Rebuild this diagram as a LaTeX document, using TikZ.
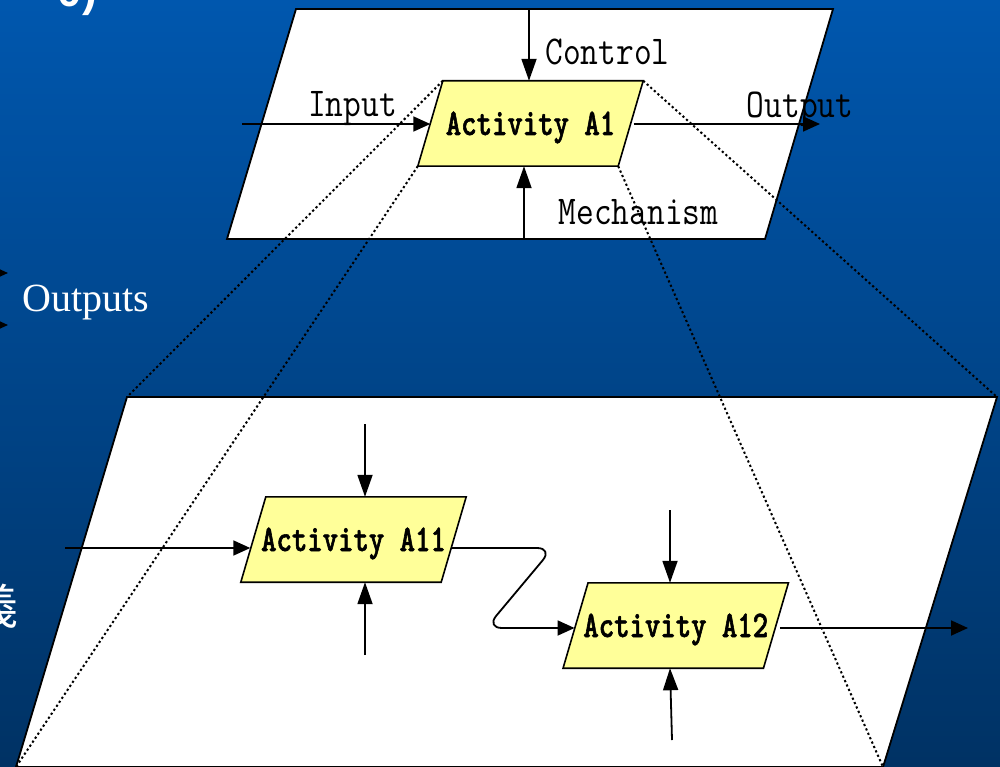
\documentclass[tikz,border=0pt]{standalone}
\usepackage{fontspec}
\usetikzlibrary{arrows.meta}
\newfontfamily\lblfont[FakeStretch=0.84]{Latin Modern Mono}
\newfontfamily\actfont[FakeStretch=0.78,FakeBold=1.5]{lmmonolt10-bold.otf}
\newfontfamily\outfont{Liberation Serif}
\newfontfamily\ttlfont{Liberation Sans}
\newfontfamily\cjkfont{Noto Sans CJK TC}
\definecolor{bgtop}{RGB}{0,87,174}
\definecolor{bgbot}{RGB}{0,50,100}
\definecolor{actyellow}{RGB}{255,255,153}
\pgfdeclarelayer{bg}
\pgfdeclarelayer{boxes}
\pgfsetlayers{bg,boxes,main}
\begin{document}
\begin{tikzpicture}[x=1pt,y=-1pt,
  frame/.style={draw=black,fill=white,line width=1.8pt,line join=miter},
  actbox/.style={rectangle,minimum width=200pt,minimum height=85pt,inner sep=0pt,
    text height=23pt,text depth=0pt,
    font=\actfont\fontsize{37.6}{37.6}\selectfont},
  actshape/.style={draw=black,fill=actyellow,line width=1.6pt,line join=miter},
  lbl/.style={font=\lblfont\fontsize{41}{41}\selectfont,inner sep=0pt,anchor=base},
  harr/.style={-{Triangle[length=17pt,width=15pt]},line width=1.8pt},
  varr/.style={-{Triangle[length=22pt,width=15pt]},line width=1.8pt},
  dots/.style={line width=2pt,dash pattern=on 2.2pt off 2.6pt}]
\useasboundingbox (0,0) rectangle (1000,767);
\begin{pgfonlayer}{bg}
\shade[top color=bgtop,bottom color=bgbot] (0,0) rectangle (1000,767);
\end{pgfonlayer}

% fragments of the slide at the left
\node[font=\ttlfont\bfseries\fontsize{44}{44}\selectfont,text=white,anchor=base east,inner sep=0pt] (ttl) at (97,7) {0)};
\node[font=\outfont\fontsize{40}{40}\selectfont,text=white,anchor=base west,inner sep=0pt] (outs) at (22,311) {Outputs};
\coordinate (oa1s) at (-30,273); \coordinate (oa1) at (8,273);
\coordinate (oa2s) at (-30,325); \coordinate (oa2) at (8,325);
\draw[harr] (oa1s) -- (oa1);
\draw[harr] (oa2s) -- (oa2);
\node[font=\cjkfont\fontsize{48}{48}\selectfont,text=white,inner sep=0pt] (cj) at (-5,606) {義};

% frames
\coordinate (t1) at (296,9);  \coordinate (t2) at (833,9);
\coordinate (t3) at (765,239); \coordinate (t4) at (227,239);
\coordinate (b1) at (127,397); \coordinate (b2) at (997,397);
\coordinate (b3) at (883,767); \coordinate (b4) at (16,767);
\begin{pgfonlayer}{bg}
\draw[frame] (b1) -- (b2) -- (b3) -- (b4) -- cycle;
\draw[frame] (t1) -- (t2) -- (t3) -- (t4) -- cycle;
\end{pgfonlayer}

% activity boxes
\node[actbox] (a1) at (530.5,123.5) {Activity A1};
\node[actbox] (a11) at (353.5,539.5) {Activity A11};
\node[actbox] (a12) at (675.75,625.5) {Activity A12};
\begin{pgfonlayer}{boxes}
\foreach \b in {a1,a11,a12}{
  \draw[actshape] ([xshift=12.5pt]\b.north west) -- ([xshift=12.5pt]\b.north east)
    -- ([xshift=-12.5pt]\b.south east) -- ([xshift=-12.5pt]\b.south west) -- cycle;
}
\end{pgfonlayer}

% dotted projection lines
\draw[dots] ([xshift=12.5pt]a1.north west) -- (b1);
\draw[dots] ([xshift=-12.5pt]a1.south west) -- (b4);
\draw[dots] ([xshift=12.5pt]a1.north east) -- (b2);
\draw[dots] ([xshift=-12.5pt]a1.south east) -- (b3);

% A1 arrows
\coordinate (c1) at (529,9);
\coordinate (i1) at (242,124);
\coordinate (o1) at (820,124);
\coordinate (m1) at (524,239);
\draw[varr] (c1) -- (c1 |- a1.north);
\draw[harr] (i1) -- (i1 -| a1.west);
\draw[harr] ([xshift=3pt]a1.east |- o1) -- (o1);
\draw[varr] (m1) -- (m1 |- a1.south);
\node[lbl] (lc) at (607.5,65) {Control};
\node[lbl] (li) at (352.5,117) {Input};
\node[lbl] (lo) at (800,118) {Output};
\node[lbl] (lm) at (638.5,225) {Mechanism};

% A11 arrows
\coordinate (c11) at (365,424);
\coordinate (i11) at (65,548);
\coordinate (m11) at (365,655);
\draw[varr] (c11) -- (c11 |- a11.north);
\draw[harr] (i11) -- ([xshift=-3pt]i11 -| a11.west);
\draw[varr] (m11) -- (m11 |- a11.south);
\coordinate (k1) at (553,548);
\coordinate (k2) at (486,628);
\draw[harr,rounded corners=16pt] ([xshift=-2pt]a11.east |- k1) -- (k1) -- (k2) -- ([xshift=-1pt]k2 -| a12.west);

% A12 arrows
\coordinate (c12) at (670,510);
\coordinate (m12) at (672,740);
\coordinate (o12) at (968,628);
\draw[varr] (c12) -- (c12 |- a12.north);
\draw[varr] (m12) -- (c12 |- a12.south);
\draw[harr] ([xshift=4pt]a12.east |- o12) -- (o12);
\end{tikzpicture}
\end{document}
